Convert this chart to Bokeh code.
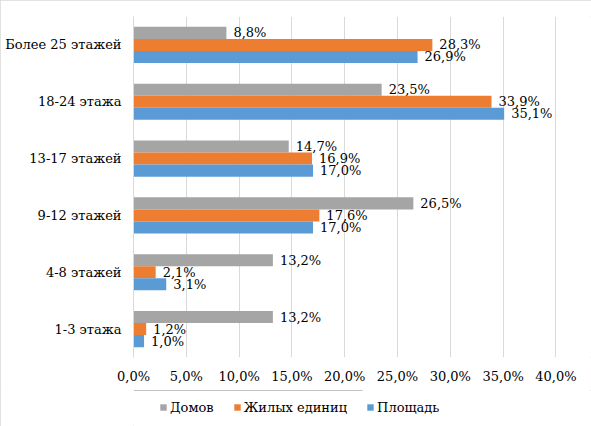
from bokeh.plotting import figure
from bokeh.layouts import column
from bokeh.models import ColumnDataSource, FactorRange, Range1d, FixedTicker, CustomJSTickFormatter, Legend, LegendItem
from bokeh.transform import dodge
from bokeh.embed import file_html
from bokeh.resources import INLINE
from bokeh.core.properties import value

categories = ["1-3 этажа", "4-8 этажей", "9-12 этажей", "13-17 этажей", "18-24 этажа", "Более 25 этажей"]
domov = [13.2, 13.2, 26.5, 14.7, 23.5, 8.8]
zhilyh = [1.2, 2.1, 17.6, 16.9, 33.9, 28.3]
ploshad = [1.0, 3.1, 17.0, 17.0, 35.1, 26.9]
series_names = ["Домов", "Жилых единиц", "Площадь"]
x_ticks = [0, 5, 10, 15, 20, 25, 30, 35, 40]

colors = ["#A5A5A5", "#ED7D31", "#5B9BD5"]
FONT = "DejaVu Serif"
FS = "13px"

def fmt(v):
    return ("%.1f" % v).replace(".", ",") + "%"

src = ColumnDataSource(dict(
    cat=categories,
    domov=domov, zhilyh=zhilyh, ploshad=ploshad,
    domov_t=[fmt(v) for v in domov],
    zhilyh_t=[fmt(v) for v in zhilyh],
    ploshad_t=[fmt(v) for v in ploshad],
))

p = figure(width=591, height=390, output_backend="svg", toolbar_location=None,
           y_range=FactorRange(*categories, range_padding=0), x_range=Range1d(0, 43.37),
           min_border_left=133, min_border_right=0, min_border_top=16, min_border_bottom=33)
p.y_range.range_padding = 0
p.outline_line_color = None
p.background_fill_color = "white"

bh = 0.2117
cols = ["domov", "zhilyh", "ploshad"]
offs = [bh, 0.0, -bh]
for c, o, col in zip(cols, offs, colors):
    p.hbar(y=dodge("cat", o, range=p.y_range), right=c, left=0, height=bh,
           source=src, fill_color=col, line_color=None)
    p.text(x=c, y=dodge("cat", o, range=p.y_range), text=c + "_t", source=src,
           x_offset=7, text_baseline="middle", text_align="left",
           text_font=value(FONT), text_font_size=FS, text_color="#000000")

p.xaxis.ticker = FixedTicker(ticks=x_ticks)
p.xaxis.formatter = CustomJSTickFormatter(code="return tick.toFixed(1).replace('.', ',') + '%';")
p.xaxis.axis_line_color = None
p.xaxis.major_tick_line_color = None
p.xaxis.minor_tick_line_color = None
p.xaxis.major_tick_out = 0
p.xaxis.major_label_standoff = 11
p.xaxis.major_label_text_font = FONT
p.xaxis.major_label_text_font_size = FS
p.xaxis.major_label_text_color = "#000000"

p.yaxis.axis_line_color = "#D9D9D9"
p.yaxis.major_tick_line_color = None
p.yaxis.minor_tick_line_color = None
p.yaxis.major_tick_out = 0
p.yaxis.major_label_standoff = 12
p.yaxis.major_label_text_font = FONT
p.yaxis.major_label_text_font_size = FS
p.yaxis.major_label_text_color = "#000000"

p.xgrid.grid_line_color = "#D9D9D9"
p.ygrid.grid_line_color = None

lg = figure(width=591, height=36, output_backend="svg", toolbar_location=None,
            x_range=Range1d(0, 1), y_range=Range1d(0, 1),
            min_border=0, min_border_left=133, min_border_right=0, min_border_top=0, min_border_bottom=0)
lg.axis.visible = False
lg.grid.visible = False
lg.outline_line_color = None
swatches = []
for n, col in zip(series_names, colors):
    r = lg.hbar(y=[5], right=[0.5], left=[0], height=0.1, fill_color=col, line_color=None)
    swatches.append(r)
legend = Legend(items=[LegendItem(label=n, renderers=[r]) for n, r in zip(series_names, swatches)],
                orientation="horizontal", location=(26, 10),
                glyph_width=8, glyph_height=8, label_height=18, label_standoff=3, spacing=19,
                padding=0, margin=0, border_line_color=None, background_fill_alpha=0,
                label_text_font=FONT, label_text_font_size=FS, label_text_color="#000000")
lg.add_layout(legend, "center")

layout = column(p, lg, spacing=0, styles={"outline": "1px solid #D9D9D9", "outline-offset": "-1px"})
open("out.html", "w").write(file_html(layout, INLINE))
